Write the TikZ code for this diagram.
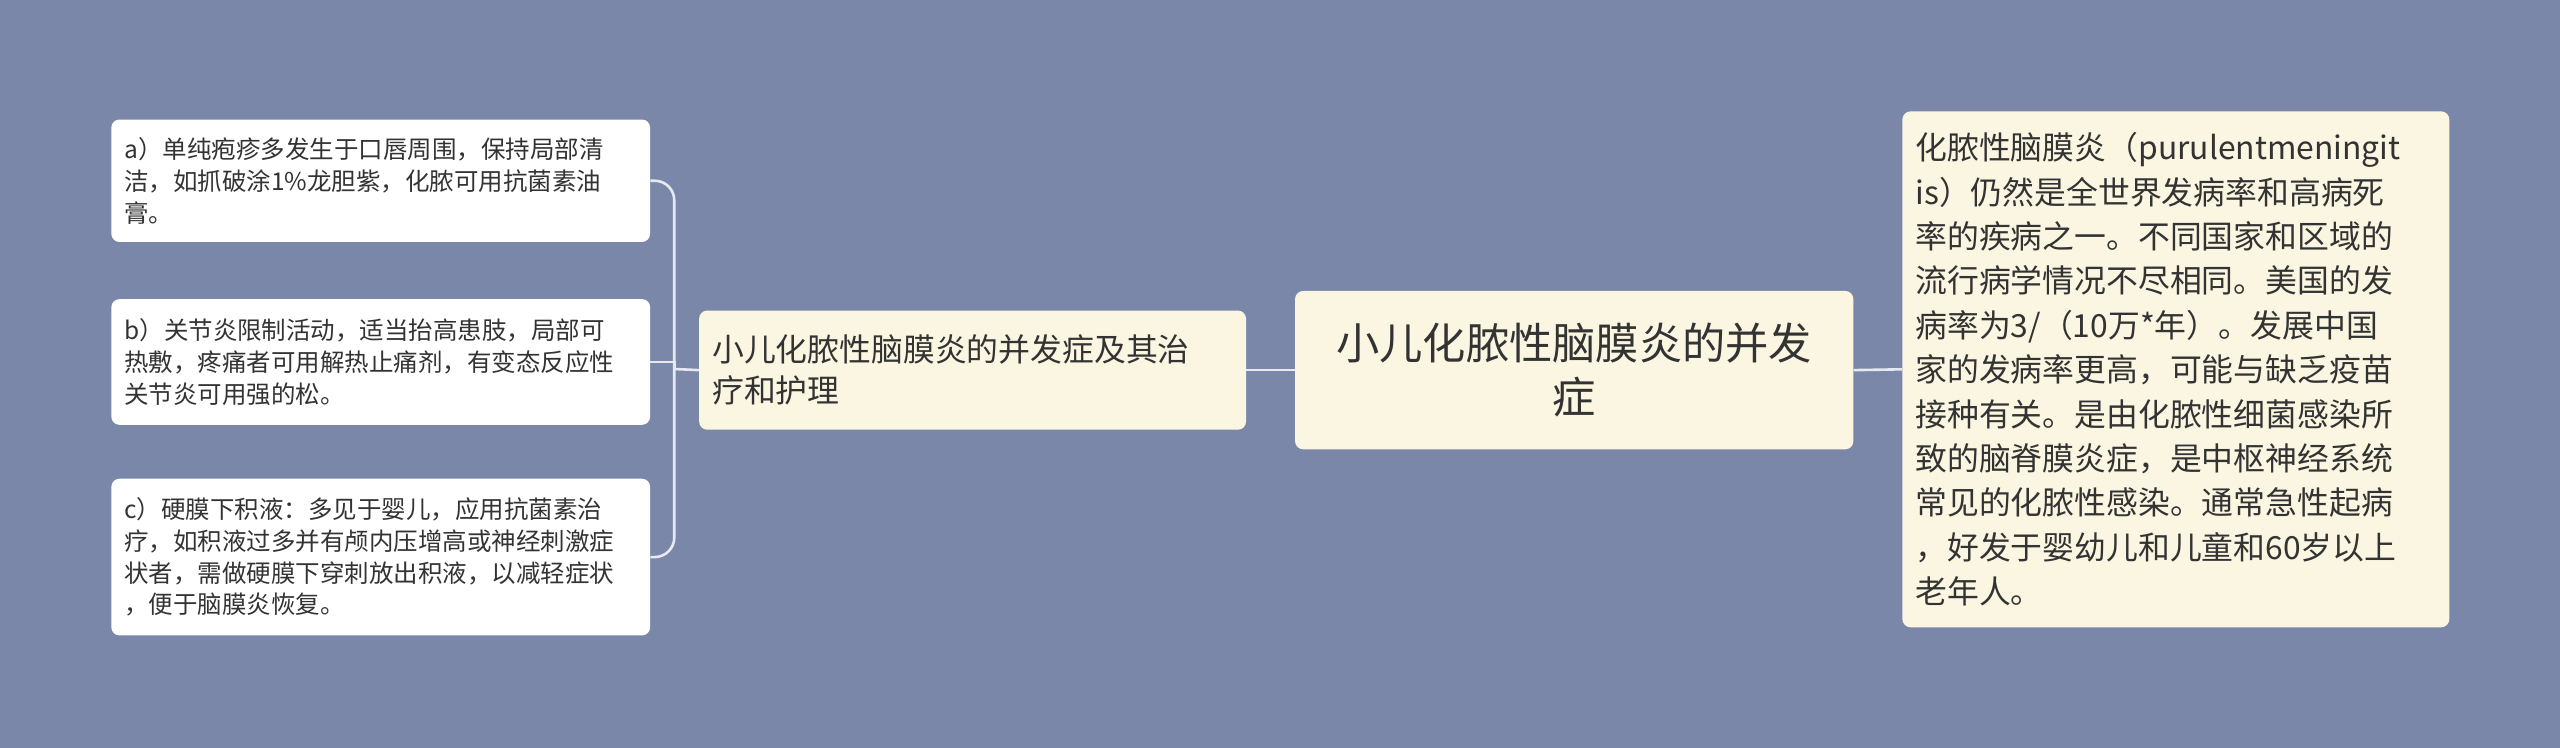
\documentclass[tikz,border=0pt]{standalone}
\usepackage{fontspec}
\setmainfont{Noto Sans CJK SC}
\begin{document}
\begin{tikzpicture}[x=1pt,y=1pt,
  box/.style={draw=none,rounded corners=5pt,anchor=north west,align=left,inner xsep=8pt,inner ysep=0pt,text=black!80},
  leaf/.style={box,fill=white,font=\fontsize{15}{19.5}\selectfont},
  mid/.style={box,fill=cream,font=\fontsize{19.5}{25}\selectfont},
  conn/.style={draw=linec,line width=1.6pt}]
\definecolor{bg}{HTML}{7A87A8}
\definecolor{cream}{HTML}{FAF6E1}
\definecolor{linec}{HTML}{E6EAF0}
\fill[bg] (0,0) rectangle (1568,-458);
\useasboundingbox (0,0) rectangle (1568,-458);
\node[leaf,minimum width=330pt,minimum height=75pt,text width=314pt] (a) at (68,-73) {a）单纯疱疹多发生于口唇周围，保持局部清\\洁，如抓破涂1\%龙胆紫，化脓可用抗菌素油\\膏。};
\node[leaf,minimum width=330pt,minimum height=77pt,text width=314pt] (b) at (68,-183) {b）关节炎限制活动，适当抬高患肢，局部可\\热敷，疼痛者可用解热止痛剂，有变态反应性\\关节炎可用强的松。};
\node[leaf,minimum width=330pt,minimum height=96pt,text width=314pt] (c) at (68,-293) {c）硬膜下积液：多见于婴儿，应用抗菌素治\\疗，如积液过多并有颅内压增高或神经刺激症\\状者，需做硬膜下穿刺放出积液，以减轻症状\\，便于脑膜炎恢复。};
\node[mid,minimum width=335pt,minimum height=73pt,text width=319pt] (m) at (428,-190) {小儿化脓性脑膜炎的并发症及其治\\疗和护理};
\node[box,fill=cream,align=center,font=\fontsize{26.5}{33}\selectfont,minimum width=342pt,minimum height=97pt,text width=326pt] (r) at (793,-178) {小儿化脓性脑膜炎的并发\\症};
\node[mid,font=\fontsize{19.5}{27.2}\selectfont,minimum width=335pt,minimum height=316pt,text width=319pt] (t) at (1165,-68) {化脓性脑膜炎（purulentmeningit\\is）仍然是全世界发病率和高病死\\率的疾病之一。不同国家和区域的\\流行病学情况不尽相同。美国的发\\病率为3/（10万*年）。发展中国\\家的发病率更高，可能与缺乏疫苗\\接种有关。是由化脓性细菌感染所\\致的脑脊膜炎症，是中枢神经系统\\常见的化脓性感染。通常急性起病\\，好发于婴幼儿和儿童和60岁以上\\老年人。};
\coordinate (j) at (413,-226);
\draw[conn] (r.west) -- (m.east);
\draw[conn] (r.east) -- (t.west);
\draw[conn] (m.west) -- (j);
\draw[conn,rounded corners=12pt] (j) |- (a.east);
\draw[conn] (j) |- (b.east);
\draw[conn,rounded corners=12pt] (j) |- (c.east);
\end{tikzpicture}
\end{document}
